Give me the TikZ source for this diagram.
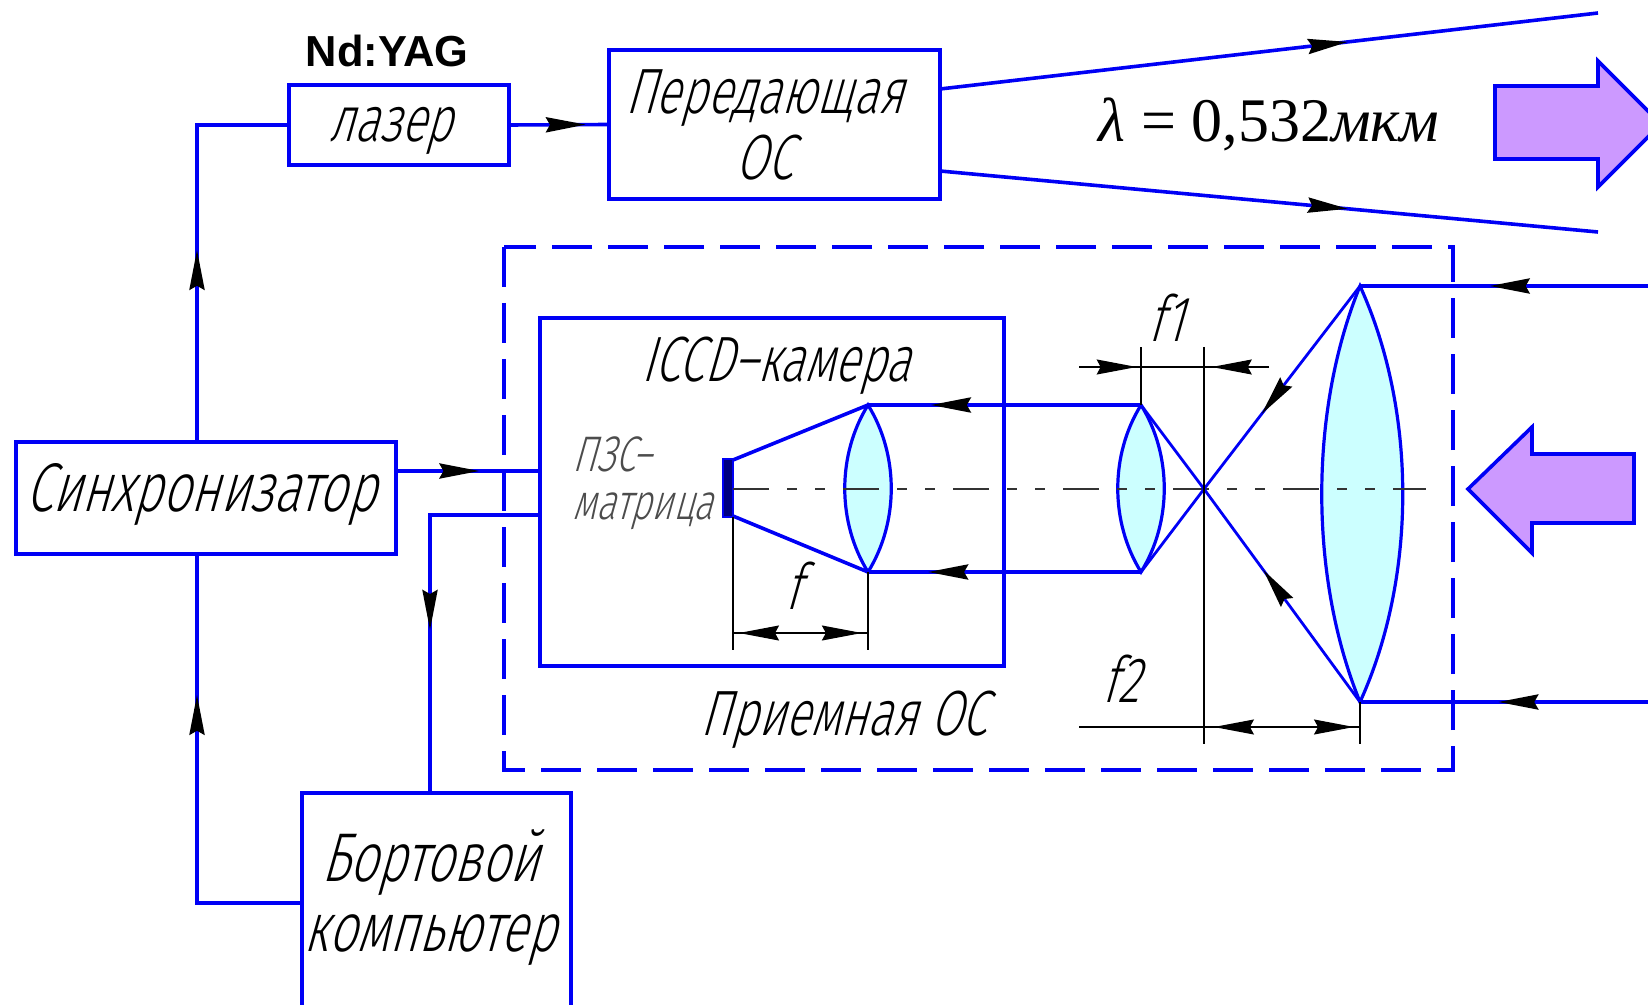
\documentclass[tikz,border=0pt]{standalone}
\usepackage{fontspec}
\usetikzlibrary{arrows.meta,decorations.markings}

\newfontfamily\gostfont[FakeSlant=0.28,FakeStretch=0.72]{Fira Sans Light}
\newfontfamily\tagfont{Liberation Sans}
\newfontfamily\formfont{Liberation Serif}

\definecolor{wireblue}{RGB}{0,0,245}
\definecolor{lenscyan}{RGB}{204,255,255}
\definecolor{beamviolet}{RGB}{204,153,255}
\definecolor{sensornavy}{RGB}{0,0,128}

\tikzset{
  wire/.style={draw=wireblue,line width=1.8pt},
  ray/.style={draw=wireblue,line width=1.4pt},
  dimline/.style={draw=black,line width=0.6pt},
  box/.style={draw=wireblue,line width=1.8pt,rectangle,inner sep=0pt,outer sep=0pt},
  gosttext/.style={font=\gostfont\fontsize{32pt}{33pt}\selectfont,inner sep=0pt,align=center},
  gostwide/.style={font=\gostfont\fontsize{34.5pt}{35pt}\selectfont,inner sep=0pt,align=center},
  lensbody/.style={draw=wireblue,line width=1.6pt,fill=lenscyan},
  bigarrow/.style={draw=wireblue,line width=1.8pt,fill=beamviolet,line join=miter},
  tipat/.style={postaction={decorate,decoration={markings,
    mark=at position #1 with {\arrow{Stealth[length=20pt,width=7.5pt,inset=2pt,black]}}}}}
}

\begin{document}
\begin{tikzpicture}[x=0.5pt,y=-0.5pt]
\useasboundingbox (0,0) rectangle (1648,1005);
\clip (0,0) rectangle (1648,1005);

% ---------- Blocks ----------
\node[box,minimum width=110pt,minimum height=40pt] (laser) at (399,125) {};
\node[box,minimum width=165.5pt,minimum height=74.5pt] (tx) at (774.5,124.5) {};
\node[box,minimum width=190pt,minimum height=56pt] (sync) at (206,498) {};
\node[box,minimum width=134.5pt,minimum height=110pt] (board) at (436.5,903) {};
\node[box,minimum width=232pt,minimum height=174pt] (iccd) at (772,492) {};
\node[gosttext] (lasertext) at (390.5,131) {лазер};
\node[gosttext] (txtext) at (764,124.5) {Передающая\\ОС};
\node[gostwide] (synctext) at (201,495) {Синхронизатор};
\node[gostwide] (boardtext) at (430,898) {Бортовой\\компьютер};
\node[font=\tagfont\bfseries\fontsize{21.7pt}{24pt}\selectfont,inner sep=0pt] (ndyag) at (387,51) {Nd:YAG};

% ---------- Receiver frame ----------
\draw[draw=wireblue,line width=1.8pt,dash pattern=on 20pt off 8pt] (504,247) rectangle (1453,770);
\node[gosttext] (rxtext) at (844,720) {Приемная ОС};
\node[gosttext] (iccdtext) at (776,366) {ICCD–камера};
\node[gosttext,font=\gostfont\fontsize{25pt}{24pt}\selectfont,text=black!70,align=left] (ccdtext) at (643,483) {ПЗС–\\матрица};

% ---------- Points of the optics ----------
\coordinate (l1t) at (868,405);
\coordinate (l1b) at (868,572);
\coordinate (l2t) at (1141,405);
\coordinate (l2b) at (1141,572);
\coordinate (l3t) at (1360,286);
\coordinate (l3b) at (1360,702);
\coordinate (foc) at (1204,489);

% ---------- Lenses ----------
\draw[lensbody] (l1t) .. controls (899,455) and (899,522) .. (l1b)
  .. controls (837,522) and (837,455) .. cycle;
\draw[lensbody] (l2t) .. controls (1172,455) and (1172,522) .. (l2b)
  .. controls (1110,522) and (1110,455) .. cycle;
\draw[lensbody] (l3t) .. controls (1417,411) and (1417,577) .. (l3b)
  .. controls (1309,577) and (1309,411) .. cycle;

% ---------- Sensor and axis ----------
\draw[draw=wireblue,line width=1pt,fill=sensornavy] (723,459) rectangle (733,517);
\draw[draw=black!80,line width=0.7pt,dash pattern=on 18pt off 9pt on 5pt off 9pt on 5pt off 9pt] (733,489) -- (1426,489);

% ---------- Rays ----------
\draw[wire] (733,460) -- (l1t);
\draw[wire] (733,516) -- (l1b);
\draw[ray] (l2t) -- (foc);
\draw[ray] (l2b) -- (foc);
\draw[ray,tipat=0.63] (l3t) -- (foc);
\draw[ray,tipat=0.62] (l3b) -- (foc);
\draw[wire,tipat=0.77] (l2t) -- (l1t);
\draw[wire,tipat=0.78] (l2b) -- (l1b);

\coordinate (ina) at (1648,286);
\coordinate (inb) at (1648,702);
\draw[wire,tipat=0.55] (ina) -- (l3t);
\draw[wire,tipat=0.52] (inb) -- (l3b);

% ---------- Transmitted beam ----------
\coordinate (upa) at (940,89);
\coordinate (upb) at (1598,13);
\coordinate (dna) at (940,171);
\coordinate (dnb) at (1598,232);
\draw[wire,tipat=0.62] (upa) -- (upb);
\draw[wire,tipat=0.62] (dna) -- (dnb);
\node[font=\formfont\fontsize{31pt}{34pt}\selectfont,inner sep=0pt] (wave) at (1269,124) {{\itshape λ} = 0,532{\itshape мкм}};

% ---------- Big arrows ----------
\draw[bigarrow] (1495,86) -- (1598,86) -- (1598,61) -- (1661,124) -- (1598,187) -- (1598,159) -- (1495,159) -- cycle;
\draw[bigarrow] (1634,454) -- (1532,454) -- (1532,427) -- (1468,489) -- (1532,553) -- (1532,523) -- (1634,523) -- cycle;

% ---------- Connections ----------
\coordinate (busx) at (197,0);
\coordinate (syncout) at (396,471);
\coordinate (datain) at (540,515);
\coordinate (boardtop) at (430,793);
\draw[wire,tipat=0.47] (busx |- sync.north) |- (laser.west);
\draw[wire,tipat=0.69] (board.west) -| (busx |- sync.south);
\draw[wire,tipat=0.58] (syncout) -- (syncout -| iccd.west);
\draw[wire,tipat=0.58] (datain) -| (boardtop);
\draw[wire,tipat=0.77] (laser.east) -- (tx.west);

% ---------- f ----------
\coordinate (fa) at (733,650);
\coordinate (fb) at (868,650);
\coordinate (fl) at (733,633);
\coordinate (fm) at (800,633);
\coordinate (fr) at (868,633);
\draw[dimline] (733,517) -- (fa);
\draw[dimline] (l1b) -- (fb);
\draw[dimline,tipat=0.91] (fm) -- (fl);
\draw[dimline,tipat=0.91] (fm) -- (fr);
\node[gosttext] (ftext) at (793,586) {f};

% ---------- f1 ----------
\coordinate (fat) at (1141,347);
\coordinate (fot) at (1204,347);
\coordinate (fob) at (1204,744);
\coordinate (lob) at (1360,744);
\coordinate (ala) at (1079,367);
\coordinate (alm) at (1172,367);
\coordinate (alb) at (1269,367);
\draw[dimline] (l2t) -- (fat);
\draw[dimline] (fot) -- (fob);
\draw[dimline,tipat=0.62] (ala) -- (alm);
\draw[dimline,tipat=0.59] (alb) -- (alm);
\node[gosttext] (f1text) at (1166,318) {f1};

% ---------- f2 ----------
\coordinate (bla) at (1079,727);
\coordinate (blm) at (1285,727);
\coordinate (blb) at (1360,727);
\draw[dimline] (l3b) -- (lob);
\draw[dimline,tipat=0.345] (blm) -- (bla);
\draw[dimline,tipat=0.92] (blm) -- (blb);
\node[gosttext] (f2text) at (1121,679) {f2};

\end{tikzpicture}
\end{document}
